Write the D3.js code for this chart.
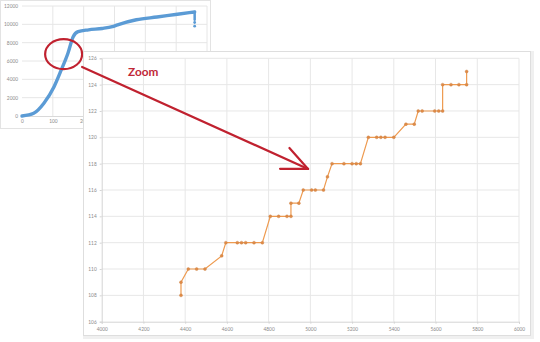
<!DOCTYPE html>
<html>
<head>
<meta charset="utf-8">
<script src="https://cdn.jsdelivr.net/npm/d3@7"></script>
<style>
  html, body { margin: 0; padding: 0; background: #ffffff; }
  svg { display: block; }
  .tick text { font-family: Lato, "Liberation Sans", sans-serif; fill: #8a8a8a; }
</style>
</head>
<body>
<svg id="chart" width="540" height="342"></svg>
<script>
// overview series (small chart in the back)
const overviewX = [0, 38, 71, 104, 127, 149, 166, 182, 216, 260, 293, 310, 371, 438, 504, 560, 560];
const overviewY = [0, 300, 1400, 3200, 5000, 6850, 8650, 9200, 9400, 9550, 9750, 9950, 10500, 10800, 11100, 11350, 10500];
const overviewStrays = [[560, 10200], [560, 9800]];
const overviewXTicks = [0, 100, 200, 300, 400, 500, 600];
const overviewYTicks = [0, 2000, 4000, 6000, 8000, 10000, 12000];

// zoomed series (front chart)
const zoomX = [4380, 4380, 4415, 4455, 4495, 4575, 4595, 4650, 4670, 4690, 4730, 4770,
  4808, 4848, 4888, 4907, 4907, 4945, 4966, 5006, 5024, 5063, 5082, 5104, 5161, 5200,
  5220, 5240, 5278, 5318, 5338, 5358, 5400, 5458, 5498, 5517, 5536, 5596, 5615, 5634,
  5634, 5674, 5712, 5749, 5749];
const zoomY = [108, 109, 110, 110, 110, 111, 112, 112, 112, 112, 112, 112,
  114, 114, 114, 114, 115, 115, 116, 116, 116, 116, 117, 118, 118, 118,
  118, 118, 120, 120, 120, 120, 120, 121, 121, 122, 122, 122, 122, 122,
  124, 124, 124, 124, 125];
const zoomXTicks = [4000, 4200, 4400, 4600, 4800, 5000, 5200, 5400, 5600, 5800, 6000];
const zoomYTicks = [106, 108, 110, 112, 114, 116, 118, 120, 122, 124, 126];

// annotation anchors, in data units of each chart
const circleCenter = [135, 6750];
const arrowFrom = [195, 5350];
const arrowTo = [4989, 117.6];
const zoomLabel = 'Zoom';

const red = '#c0212f';
const plain = d3.format('d');
const svg = d3.select('#chart');

// ---------- small chart ----------
const sx = d3.scaleLinear().domain([0, 600]).range([22, 207]);
const sy = d3.scaleLinear().domain([0, 12000]).range([116, 6]);

svg.append('rect')
  .attr('x', 0.5).attr('y', 0.5).attr('width', 210).attr('height', 128)
  .attr('fill', '#fff').attr('stroke', '#e3e3e3');

const small = svg.append('g');
small.append('g').selectAll('line')
  .data(overviewYTicks.slice(1))
  .join('line')
  .attr('x1', sx(0)).attr('x2', sx(600))
  .attr('y1', d => sy(d)).attr('y2', d => sy(d))
  .attr('stroke', '#e6e6e6');
small.append('g').selectAll('line')
  .data(overviewXTicks.slice(1))
  .join('line')
  .attr('x1', d => sx(d)).attr('x2', d => sx(d))
  .attr('y1', sy(0)).attr('y2', sy(12000))
  .attr('stroke', '#e6e6e6');

const sAxisY = small.append('g')
  .attr('transform', `translate(${sx(0) - 1},0)`)
  .call(d3.axisLeft(sy).tickValues(overviewYTicks).tickFormat(plain).tickSize(0).tickPadding(3));
const sAxisX = small.append('g')
  .attr('transform', `translate(0,${sy(0)})`)
  .call(d3.axisBottom(sx).tickValues(overviewXTicks).tickFormat(plain).tickSize(0).tickPadding(4));
[sAxisY, sAxisX].forEach(a => {
  a.select('.domain').attr('stroke', '#d9d9d9');
  a.selectAll('text').attr('font-size', 4.8);
});
sAxisY.select('.domain').remove();

const smallLine = d3.line().x(d => sx(d[0])).y(d => sy(d[1])).curve(d3.curveMonotoneX);
const overview = overviewX.map((x, i) => [x, overviewY[i]]);
small.append('path')
  .datum(overview.slice(0, 16))
  .attr('d', smallLine)
  .attr('fill', 'none')
  .attr('stroke', '#5b9bd5')
  .attr('stroke-width', 3.4)
  .attr('stroke-linecap', 'round');
small.append('line')
  .attr('x1', sx(overviewX[15])).attr('x2', sx(overviewX[16]))
  .attr('y1', sy(overviewY[15])).attr('y2', sy(overviewY[16]))
  .attr('stroke', '#5b9bd5').attr('stroke-width', 2.5).attr('stroke-linecap', 'round');
small.selectAll('.stray')
  .data(overviewStrays)
  .join('circle')
  .attr('cx', d => sx(d[0])).attr('cy', d => sy(d[1]))
  .attr('r', 1.4).attr('fill', '#5b9bd5');

// red circle round the zoomed part
svg.append('ellipse')
  .attr('cx', sx(circleCenter[0])).attr('cy', sy(circleCenter[1]))
  .attr('rx', 18.5).attr('ry', 15)
  .attr('fill', 'none').attr('stroke', red).attr('stroke-width', 2.2);

// ---------- big chart ----------
const bx = d3.scaleLinear().domain([4000, 6000]).range([101.7, 519]);
const by = d3.scaleLinear().domain([106, 126]).range([321.7, 58.3]);

svg.append('rect')
  .attr('x', 84.5).attr('y', 52.5).attr('width', 448).attr('height', 285)
  .attr('fill', 'none').attr('stroke', '#f0f0f0').attr('stroke-width', 3);
svg.append('rect')
  .attr('x', 83.5).attr('y', 51.5).attr('width', 447).attr('height', 284)
  .attr('fill', '#fff').attr('stroke', '#dedede');

const big = svg.append('g');
big.append('g').selectAll('line')
  .data(zoomYTicks.slice(1))
  .join('line')
  .attr('x1', bx(4000)).attr('x2', bx(6000))
  .attr('y1', d => by(d)).attr('y2', d => by(d))
  .attr('stroke', '#e7e7e7');
big.append('g').selectAll('line')
  .data(zoomXTicks.slice(1))
  .join('line')
  .attr('x1', d => bx(d)).attr('x2', d => bx(d))
  .attr('y1', by(106)).attr('y2', by(126))
  .attr('stroke', '#e7e7e7');

const bAxisY = big.append('g')
  .attr('transform', `translate(${bx(4000)},0)`)
  .call(d3.axisLeft(by).tickValues(zoomYTicks).tickFormat(plain).tickSize(2).tickPadding(3));
const bAxisX = big.append('g')
  .attr('transform', `translate(0,${by(106)})`)
  .call(d3.axisBottom(bx).tickValues(zoomXTicks).tickFormat(plain).tickSize(2).tickPadding(4));
[bAxisY, bAxisX].forEach(a => {
  a.select('.domain').attr('stroke', '#d4d4d4');
  a.selectAll('.tick line').attr('stroke', '#d4d4d4');
  a.selectAll('text').attr('font-size', 4.8);
});

const zoomed = zoomX.map((x, i) => [x, zoomY[i]]);
big.append('path')
  .datum(zoomed)
  .attr('d', d3.line().x(d => bx(d[0])).y(d => by(d[1])))
  .attr('fill', 'none')
  .attr('stroke', '#ee9a4f')
  .attr('stroke-width', 1.2);
big.selectAll('.pt')
  .data(zoomed)
  .join('circle')
  .attr('cx', d => bx(d[0])).attr('cy', d => by(d[1]))
  .attr('r', 1.5)
  .attr('fill', '#e08a45')
  .attr('stroke', '#c9864f')
  .attr('stroke-width', 0.4);

// ---------- arrow and label ----------
const p0 = [sx(arrowFrom[0]), sy(arrowFrom[1])];
const p1 = [bx(arrowTo[0]), by(arrowTo[1])];
const ang = Math.atan2(p0[1] - p1[1], p0[0] - p1[0]);
const barb = 28, spread = 24 * Math.PI / 180;
const arrow = svg.append('g')
  .attr('stroke', red).attr('stroke-width', 2.2).attr('stroke-linecap', 'round').attr('fill', 'none');
arrow.append('line')
  .attr('x1', p0[0]).attr('y1', p0[1]).attr('x2', p1[0]).attr('y2', p1[1]);
[-spread, spread].forEach(s => {
  arrow.append('line')
    .attr('x1', p1[0]).attr('y1', p1[1])
    .attr('x2', p1[0] + barb * Math.cos(ang + s))
    .attr('y2', p1[1] + barb * Math.sin(ang + s));
});

svg.append('text')
  .attr('x', 128).attr('y', 76)
  .attr('font-family', 'Lato, "Liberation Sans", sans-serif')
  .attr('font-weight', 'bold')
  .attr('font-size', 11.8)
  .attr('fill', '#c02838')
  .text(zoomLabel);
</script>
</body>
</html>
